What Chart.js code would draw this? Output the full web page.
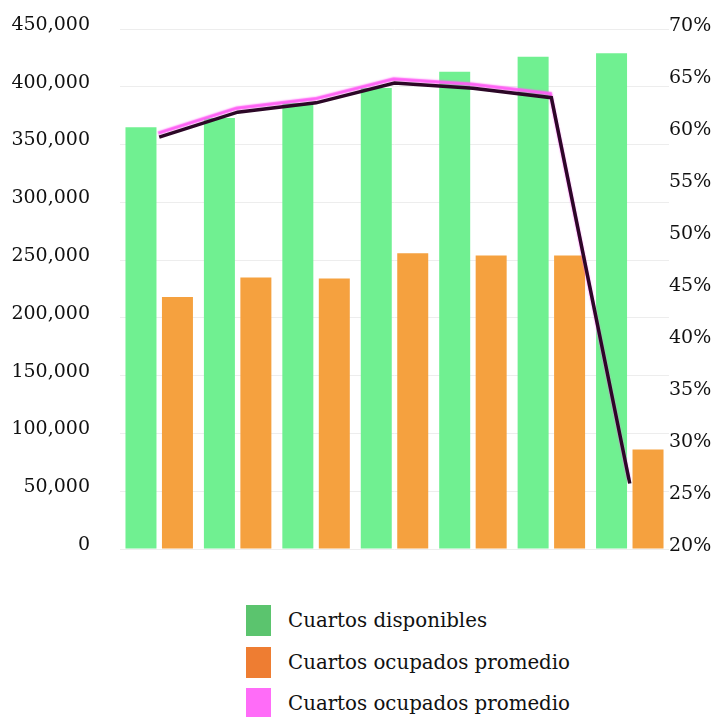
<!DOCTYPE html>
<html>
<head>
<meta charset="utf-8">
<script src="https://cdn.jsdelivr.net/npm/chart.js@4/dist/chart.umd.min.js"></script>
<style>
  body { margin: 0; background: #fff; font-family: 'DejaVu Serif', serif; }
  #wrap { position: relative; width: 722px; height: 580px; }
  #legend { position: absolute; left: 246px; top: 605px; margin: 0; padding: 0; list-style: none; }
  #legend li { height: 41.5px; display: flex; align-items: flex-start; font-size: 19.8px; color: #111; }
  #legend span.box { display: inline-block; width: 25px; height: 31px; margin-right: 17px; }
  #legend span.txt { line-height: 31px; }
</style>
</head>
<body>
<div id="wrap"><canvas id="chart"></canvas></div>
<ul id="legend"></ul>
<script>
'use strict';

// years are not printed on the chart, kept only as categories
const categories = ['2014', '2015', '2016', '2017', '2018', '2019', '2020'];
const disponibles = [365000, 373000, 386000, 399000, 413000, 426000, 429000];
const ocupados = [218000, 235000, 234000, 256000, 254000, 254000, 86000];
const ocupacion = [59.6, 62.0, 62.9, 64.8, 64.3, 63.4, 26.3];
const leftTicks = [0, 50000, 100000, 150000, 200000, 250000, 300000, 350000, 400000, 450000];
const rightTicks = [20, 25, 30, 35, 40, 45, 50, 55, 60, 65, 70];

const tickFont = { family: 'DejaVu Serif', size: 19 };

// pink glow above the dark line
const glow = {
  id: 'glow',
  beforeDatasetDraw: function(chart, args) {
    if (args.index !== 2) return;
    const c = chart.ctx;
    c.save();
    c.shadowColor = '#ff5cf5';
    c.shadowOffsetX = -1;
    c.shadowOffsetY = -4;
    c.shadowBlur = 1.5;
  },
  afterDatasetDraw: function(chart, args) {
    if (args.index === 2) chart.ctx.restore();
  }
};

// tick padding should not push the plot down, layout padding does that
function noOverhang(s, w) {
  s.width = w;
  s.paddingTop = 0;
  s.paddingBottom = 0;
}

let chart = new Chart(document.getElementById('chart'), {
  type: 'bar',
  data: {
    labels: categories,
    datasets: [
      {
        label: 'Cuartos disponibles',
        data: disponibles,
        backgroundColor: '#70f091',
        legendColor: '#5bc46e',
        yAxisID: 'y',
        order: 1,
        categoryPercentage: 0.93,
        barPercentage: 0.85
      },
      {
        label: 'Cuartos ocupados promedio',
        data: ocupados,
        backgroundColor: '#f5a13f',
        legendColor: '#ee7d32',
        yAxisID: 'y',
        order: 1,
        categoryPercentage: 0.93,
        barPercentage: 0.85
      },
      {
        type: 'line',
        label: 'Cuartos ocupados promedio',
        data: ocupacion,
        borderColor: '#2c0727',
        backgroundColor: '#ff6cf8',
        legendColor: '#ff6cf8',
        borderWidth: 3.5,
        tension: 0,
        pointRadius: 0,
        yAxisID: 'y1',
        order: 0
      }
    ]
  },
  options: {
    responsive: true,
    maintainAspectRatio: false,
    animation: false,
    layout: { padding: { top: 29, bottom: 31, left: 0, right: 0 } },
    plugins: { legend: { display: false }, tooltip: { enabled: false } },
    scales: {
      x: {
        ticks: { display: false },
        grid: { display: false },
        border: { display: false },
        afterFit: function(s) { s.height = 0; }
      },
      y: {
        position: 'left',
        min: 0,
        max: 450000,
        afterBuildTicks: function(s) { s.ticks = leftTicks.map(v => ({ value: v })); },
        ticks: {
          font: tickFont,
          color: '#111',
          padding: 30,
          labelOffset: -4,
          callback: function(v) { return v.toLocaleString('en-US'); }
        },
        grid: { color: '#ededed', drawTicks: false },
        border: { display: false },
        afterFit: function(s) { noOverhang(s, 120); }
      },
      y1: {
        position: 'right',
        min: 20,
        max: 70,
        afterBuildTicks: function(s) { s.ticks = rightTicks.map(v => ({ value: v })); },
        ticks: {
          font: tickFont,
          color: '#111',
          padding: 0,
          labelOffset: -3,
          callback: function(v) { return v + '%'; }
        },
        grid: { display: false, drawTicks: false },
        border: { display: false },
        afterFit: function(s) { noOverhang(s, 53); }
      }
    }
  },
  plugins: [glow]
});

// legend below the chart, one entry per row
const ul = document.getElementById('legend');
chart.data.datasets.forEach(function(ds) {
  const li = document.createElement('li');
  li.innerHTML = '<span class="box" style="background:' + ds.legendColor + '"></span><span class="txt"></span>';
  li.querySelector('.txt').textContent = ds.label;
  ul.appendChild(li);
});
</script>
</body>
</html>
